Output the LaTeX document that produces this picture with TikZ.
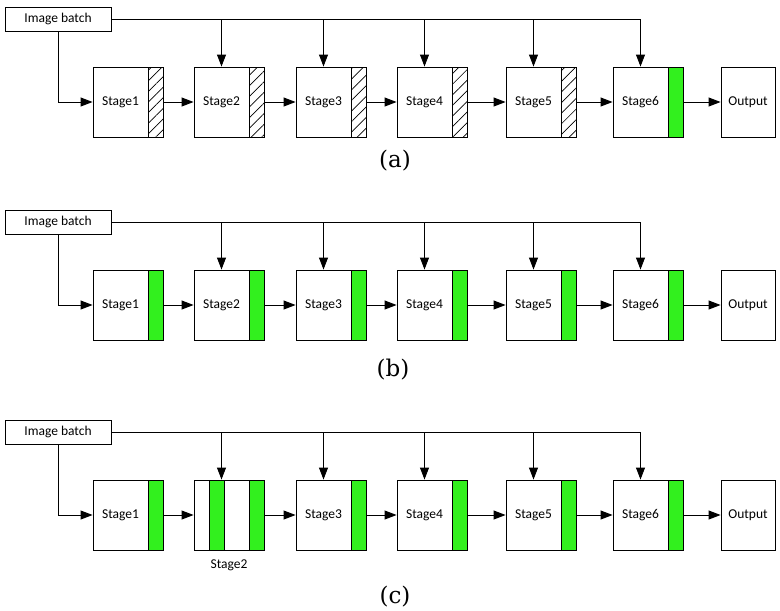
\documentclass[tikz,border=0pt]{standalone}
\usepackage{fontspec}
\setsansfont{Carlito}
\newfontfamily\panelfont{DejaVu Serif}
\usetikzlibrary{arrows.meta, patterns.meta}

\definecolor{bargreen}{RGB}{50,240,30}

\tikzset{
    stagebox/.style={draw, line width=0.9pt, minimum width=55pt, minimum height=70pt, inner sep=0pt, font=\sffamily\fontsize{13.5}{16}\selectfont},
    greenbar/.style={draw, line width=0.9pt, fill=bargreen, minimum width=15pt, minimum height=70pt, inner sep=0pt},
    hatchbar/.style={draw, line width=0.9pt, pattern={Lines[angle=45, distance=7.5pt, line width=0.7pt]}, minimum width=15pt, minimum height=70pt, inner sep=0pt},
    batchbox/.style={draw, line width=0.9pt, minimum width=106pt, minimum height=24pt, inner sep=0pt, font=\sffamily\fontsize{13.5}{16}\selectfont},
    outbox/.style={draw, line width=0.9pt, minimum width=54pt, minimum height=70pt, inner sep=0pt, font=\sffamily\fontsize{13.5}{16}\selectfont},
    flow/.style={line width=0.9pt, -{Triangle[length=12pt, width=9pt]}},
    panellabel/.style={font=\panelfont\fontsize{23}{27}\selectfont}
}

\begin{document}
\begin{tikzpicture}[x=1pt, y=-1pt]
            \useasboundingbox (0, 0) rectangle (780, 611);

            % (a)
            \node[batchbox] at (58, 19) (a-img) {Image batch};
            \foreach \i/\x in {1/120.5, 2/221.5, 3/323.5, 4/424.5, 5/533.5, 6/640.5}
                \node[stagebox] at (\x, 102) (a-s\i) {Stage\i};
            \foreach \i in {1,...,5}
                \node[hatchbar, anchor=west] at (a-s\i.east) (a-g\i) {};
            \node[greenbar, anchor=west] at (a-s6.east) (a-g6) {};
            \node[outbox] at (748, 102) (a-out) {Output};

            \draw[flow] (a-img.south) |- (a-s1.west);
            \draw[flow] (a-img.east) -| (a-s6.north);
            \foreach \i in {2,...,5}
                \draw[flow] (a-img.east -| a-s\i.north) -- (a-s\i.north);
            \foreach \i/\j in {1/2, 2/3, 3/4, 4/5, 5/6}
                \draw[flow] (a-g\i.east) -- (a-s\j.west);
            \draw[flow] (a-g6.east) -- (a-out.west);
            \node[panellabel] at (395, 161) (a-lab) {(a)};

            % (b)
            \node[batchbox] at (58, 222) (b-img) {Image batch};
            \foreach \i/\x in {1/120.5, 2/221.5, 3/323.5, 4/424.5, 5/533.5, 6/640.5}
                \node[stagebox] at (\x, 305) (b-s\i) {Stage\i};
            \foreach \i in {1,...,6}
                \node[greenbar, anchor=west] at (b-s\i.east) (b-g\i) {};
            \node[outbox] at (748, 305) (b-out) {Output};

            \draw[flow] (b-img.south) |- (b-s1.west);
            \draw[flow] (b-img.east) -| (b-s6.north);
            \foreach \i in {2,...,5}
                \draw[flow] (b-img.east -| b-s\i.north) -- (b-s\i.north);
            \foreach \i/\j in {1/2, 2/3, 3/4, 4/5, 5/6}
                \draw[flow] (b-g\i.east) -- (b-s\j.west);
            \draw[flow] (b-g6.east) -- (b-out.west);
            \node[panellabel] at (393, 370) (b-lab) {(b)};

            % (c)
            \node[batchbox] at (58, 432) (c-img) {Image batch};
            \foreach \i/\x in {1/120.5, 3/323.5, 4/424.5, 5/533.5, 6/640.5}
                \node[stagebox] at (\x, 515) (c-s\i) {Stage\i};
            \node[stagebox] at (221.5, 515) (c-s2) {};
            \node[greenbar] at (216.5, 515) (c-x2) {};
            \foreach \i in {1,...,6}
                \node[greenbar, anchor=west] at (c-s\i.east) (c-g\i) {};
            \node[outbox] at (748, 515) (c-out) {Output};
            \node[font=\sffamily\fontsize{13.5}{16}\selectfont] at (229, 565) (c-name2) {Stage2};

            \draw[flow] (c-img.south) |- (c-s1.west);
            \draw[flow] (c-img.east) -| (c-s6.north);
            \foreach \i in {2,...,5}
                \draw[flow] (c-img.east -| c-s\i.north) -- (c-s\i.north);
            \foreach \i/\j in {1/2, 2/3, 3/4, 4/5, 5/6}
                \draw[flow] (c-g\i.east) -- (c-s\j.west);
            \draw[flow] (c-g6.east) -- (c-out.west);
            \node[panellabel] at (395, 597) (c-lab) {(c)};
        \end{tikzpicture}
\end{document}
